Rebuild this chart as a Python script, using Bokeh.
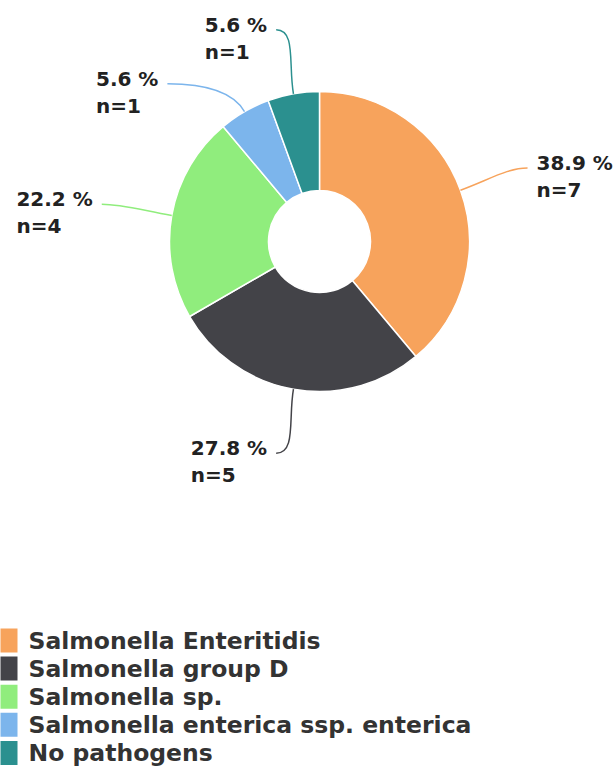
import numpy as np
from bokeh.plotting import figure
from bokeh.models import Range1d, ColumnDataSource
from bokeh.embed import file_html
from bokeh.resources import INLINE
from bokeh.core.properties import value

categories = ["Salmonella Enteritidis", "Salmonella group D", "Salmonella sp.",
              "Salmonella enterica ssp. enterica", "No pathogens"]
counts = [7, 5, 4, 1, 1]
colors = ["#f7a35c", "#434348", "#90ed7d", "#7cb5ec", "#2b908f"]

W, H = 614, 770
CX, CY = 319, H - 241
R_OUT, R_IN = 150, 51
R_LBL = 215
X_EXTRA = 6
PAD = 9
GAP = 54
FONT = "DejaVu Sans"
LBL_SIZE = 20

# approximate advance widths (em) of DejaVu Sans Bold, for block alignment
EM = {**{d: 0.696 for d in "0123456789"}, ".": 0.380, " ": 0.348, "%": 1.002,
      "n": 0.712, "=": 0.838}


def text_w(s):
    return sum(EM.get(ch, 0.7) for ch in s) * LBL_SIZE


p = figure(width=W, height=H, x_range=Range1d(0, W), y_range=Range1d(0, H),
           output_backend="svg", toolbar_location=None, min_border=0,
           outline_line_color=None,
           styles={"position": "absolute", "left": "0px", "top": "0px"})
p.axis.visible = False
p.grid.visible = False

total = sum(counts)
fr = np.array(counts, dtype=float) / total
cum = np.concatenate([[0.0], np.cumsum(fr)])
start = np.pi / 2 - cum[:-1] * 2 * np.pi
end = np.pi / 2 - cum[1:] * 2 * np.pi

src = ColumnDataSource(dict(x=[CX] * len(counts), y=[CY] * len(counts),
                            start=start, end=end, color=colors))
p.annular_wedge(x="x", y="y", inner_radius=R_IN, outer_radius=R_OUT,
                start_angle="start", end_angle="end", direction="clock",
                fill_color="color", line_color="white", line_width=1.5, source=src)

# data labels
mid = (cum[:-1] + cum[1:]) / 2 * 2 * np.pi
dx, dy = np.sin(mid), np.cos(mid)
ax, ay = CX + R_OUT * dx, CY + R_OUT * dy
side = np.where(dx >= 0, 1, -1)
ly = CY + R_LBL * dy
for s in (1, -1):
    idx = [i for i in range(len(counts)) if side[i] == s]
    idx.sort(key=lambda i: -ly[i])
    for a, b in zip(idx, idx[1:]):
        if ly[b] > ly[a] - GAP:
            ly[b] = ly[a] - GAP
lx = CX + side * (np.sqrt(np.maximum(R_LBL ** 2 - (ly - CY) ** 2, 0)) + X_EXTRA)

p.bezier(x0=ax, y0=ay, x1=lx, y1=ly,
         cx0=ax + dx * 30, cy0=ay + dy * 30,
         cx1=lx - side * 20, cy1=ly,
         line_color=colors, line_width=1.5)

pct = [f"{100 * c / total:.1f} %" for c in counts]
ns = [f"n={c}" for c in counts]
block_w = np.array([max(text_w(a), text_w(b)) for a, b in zip(pct, ns)])
tx = np.where(side > 0, lx + PAD, lx - PAD - block_w)
lsrc = ColumnDataSource(dict(x=tx, y1=ly + 5, y2=ly - 22, pct=pct, n=ns))
p.text(x="x", y="y1", text="pct", text_align="left", text_baseline="middle",
       text_font=value(FONT), text_font_style="bold", text_font_size=f"{LBL_SIZE}px",
       text_color="#222222", source=lsrc)
p.text(x="x", y="y2", text="n", text_align="left", text_baseline="middle",
       text_font=value(FONT), text_font_style="bold", text_font_size=f"{LBL_SIZE}px",
       text_color="#222222", source=lsrc)

# legend
rows = np.arange(len(categories))
leg_y = H - (640 + rows * 28.1)
p.rect(x=[5] * len(categories), y=leg_y, width=24, height=24,
       fill_color=colors, line_color=None)
p.text(x=[28] * len(categories), y=leg_y, text=categories, text_baseline="middle",
       text_font=value(FONT), text_font_style="bold", text_font_size="23.5px",
       text_color="#333333")

open("out.html", "w").write(file_html(p, INLINE))
